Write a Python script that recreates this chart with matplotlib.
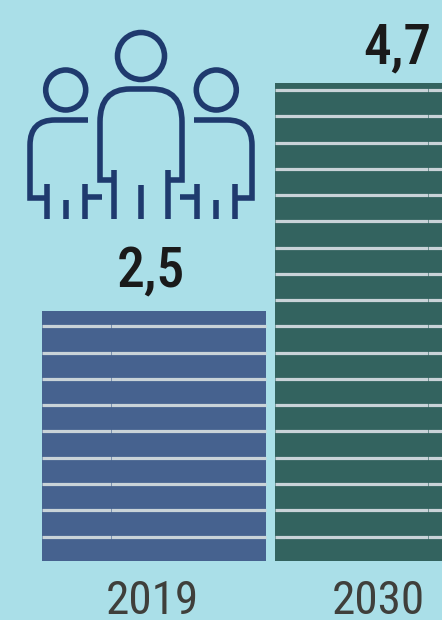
import numpy as np
import matplotlib
matplotlib.use('Agg')
import matplotlib.pyplot as plt
from matplotlib.path import Path
from matplotlib.patches import PathPatch, Circle

# dane
lata = ['2019', '2030']
wysokosci = [2.5, 4.78]
etykiety = ['2,5', '4,7']
kolory = ['#46628F', '#33635F']

tlo = '#AADFE8'
kolor_ikony = '#1F3A6E'
kolor_linii = '#C9D3D8'
czcionka = 'Roboto Condensed'

fig = plt.figure(figsize=(4.42, 6.2), dpi=100, facecolor=tlo)
ax = fig.add_axes([0, 0, 1, 1], facecolor=tlo)
ax.set_xlim(-0.661, 1.236)
ax.set_ylim(-0.59, 5.61)
ax.axis('off')

x = np.arange(len(lata))
szer = 224 / 233
ax.bar(x, wysokosci, width=szer, color=kolory, linewidth=0, zorder=1)

# poziome paski na slupkach
poziomy = 0.245 + 0.2626 * np.arange(18)
for i, h in enumerate(wysokosci):
    lewo = x[i] - szer / 2
    prawo = x[i] + szer / 2
    ax.hlines(poziomy[poziomy < h], lewo, prawo, color=kolor_linii, linewidth=2.3, zorder=2)
    # mala przerwa w paskach
    ax.vlines(lewo + 0.295 if i == 0 else lewo + 0.655, 0.1, h, color=kolory[i],
              linewidth=0.7, alpha=0.6, zorder=3)

# podpisy
przes_rok = [-2, -9]
przes_war = [-3, 10]
baza_war = [24, 20]
for i in range(len(lata)):
    ax.annotate(lata[i], (x[i], 0), xytext=(przes_rok[i] * 0.72, -38.5), textcoords='offset points',
                ha='center', va='baseline', fontsize=34, family=czcionka, color='#3F3F3B')
    ax.annotate(etykiety[i], (x[i], wysokosci[i]), xytext=(przes_war[i] * 0.72, baza_war[i] * 0.72),
                textcoords='offset points', ha='center', va='baseline', fontsize=40, family=czcionka,
                color='#1A1A1A', fontweight=500)

# ikona w pikselach
ikona = fig.add_axes([0, 0, 1, 1])
ikona.set_xlim(0, 442)
ikona.set_ylim(620, 0)
ikona.axis('off')
ikona.patch.set_alpha(0)

lw = 4.0


def linia(wierzcholki, kody=None):
    ikona.add_patch(PathPatch(Path(wierzcholki, kody), fill=False, edgecolor=kolor_ikony,
                              linewidth=lw, capstyle='butt', joinstyle='miter'))


M, L, C = Path.MOVETO, Path.LINETO, Path.CURVE3

ikona.add_patch(Circle((141, 56), 23.5, fill=False, edgecolor=kolor_ikony, linewidth=lw))
ikona.add_patch(Circle((65.7, 90), 20, fill=False, edgecolor=kolor_ikony, linewidth=lw))
ikona.add_patch(Circle((216.3, 90), 20, fill=False, edgecolor=kolor_ikony, linewidth=lw))

# srodkowa postac
linia([(114, 180), (100, 180), (100, 122), (100, 89), (130, 89), (152, 89), (182, 89), (182, 122), (182, 180), (168, 180)],
      [M, L, L, C, C, L, C, C, L, L])
for xx, y0 in [(114, 170), (168, 170), (141, 185)]:
    linia([(xx, y0), (xx, 219)])

# boczne postacie
for znak, o in [(1, 0), (-1, 282)]:
    def sx(v):
        return o + znak * v
    linia([(sx(88), 120), (sx(55), 120), (sx(30), 120), (sx(30), 145), (sx(30), 198), (sx(47), 198)],
          [M, L, C, C, L, L])
    linia([(sx(47), 184), (sx(47), 219)])
    linia([(sx(66), 200), (sx(66), 219)])
    linia([(sx(85), 184), (sx(85), 219)])
    linia([(sx(85), 197), (sx(102), 197)])

fig.savefig('out.png', dpi=100, facecolor=tlo)
